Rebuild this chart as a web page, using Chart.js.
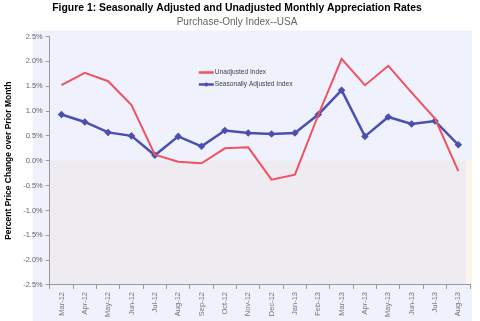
<!DOCTYPE html>
<html>
<head>
<meta charset="utf-8">
<script src="https://cdn.jsdelivr.net/npm/chart.js@4.4.0/dist/chart.umd.min.js"></script>
<style>
  html, body { margin: 0; padding: 0; background: #fff; }
  #wrap { width: 480px; height: 321px; position: relative; }
</style>
</head>
<body>
<div id="wrap"><canvas id="chart" width="480" height="321"></canvas></div>
<script>
const months = ['Mar-12', 'Apr-12', 'May-12', 'Jun-12', 'Jul-12', 'Aug-12', 'Sep-12', 'Oct-12', 'Nov-12',
  'Dec-12', 'Jan-13', 'Feb-13', 'Mar-13', 'Apr-13', 'May-13', 'Jun-13', 'Jul-13', 'Aug-13']
const unadjusted = [1.52, 1.77, 1.60, 1.12, 0.12, -0.02, -0.05, 0.25, 0.27,
  -0.38, -0.28, 0.92, 2.05, 1.52, 1.91, 1.37, 0.85, -0.21]
const seasonal = [0.93, 0.78, 0.57, 0.50, 0.11, 0.49, 0.29, 0.61, 0.56,
  0.54, 0.56, 0.93, 1.42, 0.49, 0.88, 0.74, 0.80, 0.32]

const RED = '#f0525f'
const BLUE = '#4a4fb0'

// panel + shaded negative region behind the lines
const backdrop = {
  id: 'backdrop',
  beforeDraw(chart) {
    const {ctx, chartArea: a, scales: {y}} = chart
    ctx.save()
    ctx.fillStyle = '#eff1fc'
    ctx.fillRect(a.left - 17, a.top - 6, a.right - a.left + 19, chart.height - a.top + 6)
    const z = y.getPixelForValue(0)
    ctx.fillStyle = '#efecf1'
    ctx.fillRect(a.left, z, a.right - a.left, a.bottom - z)
    ctx.fillStyle = '#fcf3ea'
    ctx.fillRect(a.right - 4, z, 6, a.bottom - z)
    ctx.restore()
  }
}

// legend drawn inside the plot
const innerLegend = {
  id: 'innerLegend',
  afterDatasetsDraw(chart) {
    const {ctx, chartArea: a} = chart
    const x0 = a.left + 149, y0 = a.top + 36
    ctx.save()
    ctx.font = '6.6px "Liberation Sans", Arial, sans-serif'
    ctx.textBaseline = 'middle'
    chart.data.datasets.forEach((ds, i) => {
      const yy = y0 + i * 12
      ctx.strokeStyle = ds.borderColor
      ctx.lineWidth = 2.5
      ctx.beginPath()
      ctx.moveTo(x0, yy)
      ctx.lineTo(x0 + 15, yy)
      ctx.stroke()
      if (ds.pointRadius) {
        ctx.fillStyle = ds.borderColor
        ctx.beginPath()
        ctx.arc(x0 + 7.5, yy, 2, 0, Math.PI * 2)
        ctx.fill()
      }
      ctx.fillStyle = '#444'
      ctx.fillText(ds.label, x0 + 16, yy)
    })
    ctx.restore()
  }
}

new Chart(document.getElementById('chart'), {
  type: 'line',
  data: {
    labels: months,
    datasets: [
      {
        label: 'Unadjusted Index',
        data: unadjusted,
        borderColor: RED,
        backgroundColor: RED,
        borderWidth: 2,
        pointRadius: 0,
        tension: 0
      },
      {
        label: 'Seasonally Adjusted Index',
        data: seasonal,
        borderColor: BLUE,
        backgroundColor: BLUE,
        borderWidth: 2.5,
        pointRadius: 2,
        pointStyle: 'rectRot',
        tension: 0
      }
    ]
  },
  plugins: [backdrop, innerLegend],
  options: {
    responsive: false,
    animation: false,
    layout: {padding: {left: 4, right: 10, top: 0, bottom: 1}},
    plugins: {
      legend: {display: false},
      tooltip: {enabled: false},
      title: {
        display: true,
        text: 'Figure 1: Seasonally Adjusted and Unadjusted Monthly Appreciation Rates',
        color: '#000',
        font: {family: '"Liberation Sans", Arial, sans-serif', size: 10.4, weight: 'bold'},
        padding: {top: 2, bottom: 2}
      },
      subtitle: {
        display: true,
        text: 'Purchase-Only Index--USA',
        color: '#666',
        font: {family: '"Liberation Sans", Arial, sans-serif', size: 10},
        padding: {bottom: 8}
      }
    },
    scales: {
      x: {
        offset: true,
        grid: {display: true, drawOnChartArea: false, offset: true, tickLength: 4, color: '#999'},
        border: {color: '#999'},
        ticks: {
          color: '#777',
          maxRotation: 90,
          minRotation: 90,
          autoSkip: false,
          font: {family: '"Liberation Sans", Arial, sans-serif', size: 7.5}
        }
      },
      y: {
        min: -2.5,
        max: 2.5,
        grid: {display: true, drawOnChartArea: false, tickLength: 4, color: '#999'},
        border: {color: '#999'},
        ticks: {
          stepSize: 0.5,
          color: '#666',
          padding: 3,
          font: {family: '"Liberation Sans", Arial, sans-serif', size: 7.5},
          callback: v => v.toFixed(1) + '%'
        },
        title: {
          display: true,
          text: 'Percent Price Change over Prior Month',
          color: '#000',
          font: {family: '"Liberation Sans", Arial, sans-serif', size: 8.5, weight: 'bold'},
          padding: {top: 0, bottom: 6}
        }
      }
    }
  }
})
</script>
</body>
</html>
